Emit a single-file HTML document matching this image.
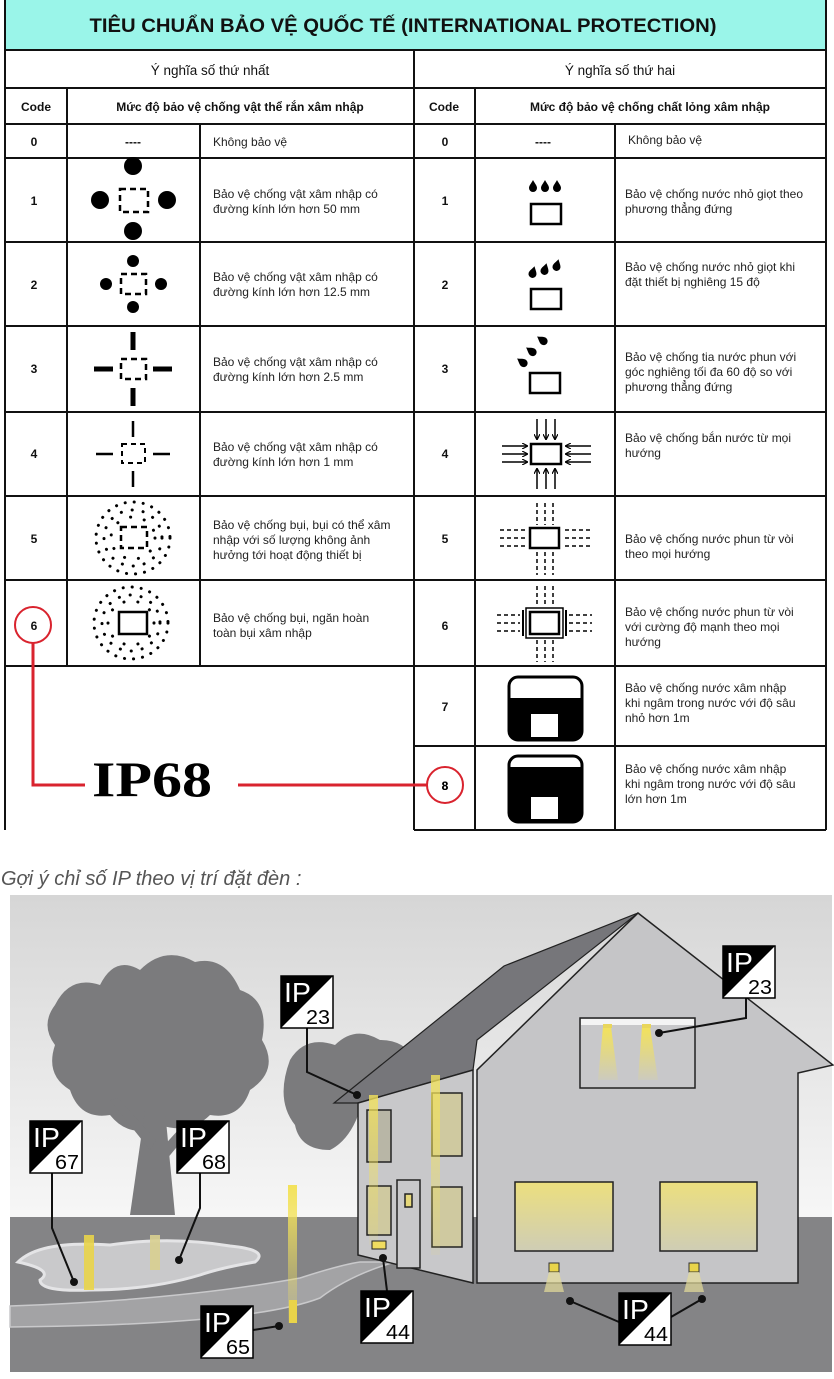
<!DOCTYPE html>
<html><head><meta charset="utf-8"><style>
html,body{margin:0;padding:0;background:#fff;width:834px;height:1379px;overflow:hidden}
svg{display:block}
text{font-family:"Liberation Sans",Arial,sans-serif}
</style></head><body>
<svg width="834" height="1379" viewBox="0 0 834 1379" xmlns="http://www.w3.org/2000/svg">
<defs>
<marker id="ar" markerWidth="6" markerHeight="6" refX="5" refY="3" orient="auto" markerUnits="userSpaceOnUse"><path d="M0,0 L6,3 L0,6" fill="none" stroke="#000" stroke-width="1.2"/></marker>
<path id="drop" d="M0,-6 C1.5,-3 4,-0.5 4,2 A4,4 0 1 1 -4,2 C-4,-0.5 -1.5,-3 0,-6Z" fill="#000"/>
<linearGradient id="sky" x1="0" y1="0" x2="0" y2="1"><stop offset="0" stop-color="#d6d6d6"/><stop offset="0.75" stop-color="#fafafa"/><stop offset="1" stop-color="#fff"/></linearGradient>
<linearGradient id="win" x1="0" y1="0" x2="0" y2="1"><stop offset="0" stop-color="#ecdf7e"/><stop offset="1" stop-color="#cfcdb5"/></linearGradient>
<linearGradient id="beam" x1="0" y1="0" x2="0" y2="1"><stop offset="0" stop-color="#f3e25a"/><stop offset="1" stop-color="#f3e25a" stop-opacity="0.1"/></linearGradient>
<g id="badge">
<rect x="0" y="0" width="52" height="52" fill="#fff" stroke="#000" stroke-width="1.5"/>
<polygon points="0,0 52,0 0,52" fill="#000"/>
<text x="3" y="26" font-size="28" fill="#fff" textLength="27" lengthAdjust="spacingAndGlyphs">IP</text>
</g>
</defs>

<!-- ===== TABLE ===== -->
<rect x="5" y="0" width="821" height="50" fill="#9af5e9"/>
<text x="403" y="32" font-size="19" font-weight="bold" text-anchor="middle" fill="#111" textLength="627" lengthAdjust="spacingAndGlyphs">TIÊU CHUẨN BẢO VỆ QUỐC TẾ (INTERNATIONAL PROTECTION)</text>
<g stroke="#111" stroke-width="2" fill="none">
<line x1="5" y1="0" x2="5" y2="830"/>
<line x1="826" y1="0" x2="826" y2="830"/>
<line x1="414" y1="50" x2="414" y2="830"/>
<line x1="67" y1="88" x2="67" y2="666"/>
<line x1="200" y1="124" x2="200" y2="666"/>
<line x1="475" y1="88" x2="475" y2="830"/>
<line x1="615" y1="124" x2="615" y2="830"/>
<line x1="5" y1="50" x2="826" y2="50"/>
<line x1="5" y1="88" x2="826" y2="88"/>
<line x1="5" y1="124" x2="826" y2="124"/>
<line x1="5" y1="158" x2="826" y2="158"/>
<line x1="5" y1="242" x2="826" y2="242"/>
<line x1="5" y1="326" x2="826" y2="326"/>
<line x1="5" y1="412" x2="826" y2="412"/>
<line x1="5" y1="496" x2="826" y2="496"/>
<line x1="5" y1="580" x2="826" y2="580"/>
<line x1="5" y1="666" x2="826" y2="666"/>
<line x1="414" y1="746" x2="826" y2="746"/>
<line x1="414" y1="830" x2="826" y2="830"/>
</g>
<g font-size="13.5" fill="#111" text-anchor="middle">
<text x="210" y="75">Ý nghĩa số thứ nhất</text>
<text x="620" y="75">Ý nghĩa số thứ hai</text>
<g font-weight="bold" font-size="12">
<text x="36" y="111">Code</text><text x="240" y="111">Mức độ bảo vệ chống vật thể rắn xâm nhập</text>
<text x="444" y="111">Code</text><text x="650" y="111">Mức độ bảo vệ chống chất lỏng xâm nhập</text>
<text x="34" y="146">0</text><text x="34" y="205">1</text><text x="34" y="289">2</text><text x="34" y="373">3</text><text x="34" y="458">4</text><text x="34" y="543">5</text><text x="34" y="630">6</text>
<text x="445" y="146">0</text><text x="445" y="205">1</text><text x="445" y="289">2</text><text x="445" y="373">3</text><text x="445" y="458">4</text><text x="445" y="543">5</text><text x="445" y="630">6</text><text x="445" y="711">7</text><text x="445" y="790">8</text>
<text x="133" y="146">----</text><text x="543" y="146">----</text>
</g>
</g>
<g font-size="12" fill="#222">
<text x="213" y="146">Không bảo vệ</text>
<text x="628" y="144">Không bảo vệ</text>
<text x="213" y="198">Bảo vệ chống vật xâm nhập có</text><text x="213" y="213">đường kính lớn hơn 50 mm</text>
<text x="213" y="281">Bảo vệ chống vật xâm nhập có</text><text x="213" y="296">đường kính lớn hơn 12.5 mm</text>
<text x="213" y="366">Bảo vệ chống vật xâm nhập có</text><text x="213" y="381">đường kính lớn hơn 2.5 mm</text>
<text x="213" y="451">Bảo vệ chống vật xâm nhập có</text><text x="213" y="466">đường kính lớn hơn 1 mm</text>
<text x="213" y="529">Bảo vệ chống bụi, bụi có thể xâm</text><text x="213" y="544">nhập với số lượng không ảnh</text><text x="213" y="559">hưởng tới hoạt động thiết bị</text>
<text x="213" y="622">Bảo vệ chống bụi, ngăn hoàn</text><text x="213" y="637">toàn bụi xâm nhập</text>
<text x="625" y="198">Bảo vệ chống nước nhỏ giọt theo</text><text x="625" y="213">phương thẳng đứng</text>
<text x="625" y="271">Bảo vệ chống nước nhỏ giọt khi</text><text x="625" y="286">đặt thiết bị nghiêng 15 độ</text>
<text x="625" y="361">Bảo vệ chống tia nước phun với</text><text x="625" y="376">góc nghiêng tối đa 60 độ so với</text><text x="625" y="391">phương thẳng đứng</text>
<text x="625" y="442">Bảo vệ chống bắn nước từ mọi</text><text x="625" y="457">hướng</text>
<text x="625" y="543">Bảo vệ chống nước phun từ vòi</text><text x="625" y="558">theo mọi hướng</text>
<text x="625" y="616">Bảo vệ chống nước phun từ vòi</text><text x="625" y="631">với cường độ mạnh theo mọi</text><text x="625" y="646">hướng</text>
<text x="625" y="692">Bảo vệ chống nước xâm nhập</text><text x="625" y="707">khi ngâm trong nước với độ sâu</text><text x="625" y="722">nhỏ hơn 1m</text>
<text x="625" y="773">Bảo vệ chống nước xâm nhập</text><text x="625" y="788">khi ngâm trong nước với độ sâu</text><text x="625" y="803">lớn hơn 1m</text>
</g>

<!-- left icons -->
<g stroke="#000" fill="none">
<rect x="120" y="189" width="28" height="23" stroke-width="2.5" stroke-dasharray="6 4"/>
<rect x="121" y="274" width="25" height="20" stroke-width="2.5" stroke-dasharray="6 4"/>
<rect x="121" y="359" width="25" height="20" stroke-width="2.5" stroke-dasharray="6 4"/>
<rect x="122" y="444" width="23" height="19" stroke-width="2" stroke-dasharray="5 4"/>
<rect x="121" y="527" width="26" height="21" stroke-width="2.5" stroke-dasharray="6 4"/>
<rect x="119" y="612" width="28" height="22" stroke-width="2.5"/>
<line x1="94" y1="369" x2="113" y2="369" stroke-width="5"/><line x1="153" y1="369" x2="172" y2="369" stroke-width="5"/>
<line x1="133" y1="332" x2="133" y2="350" stroke-width="5"/><line x1="133" y1="388" x2="133" y2="406" stroke-width="5"/>
<line x1="96" y1="454" x2="113" y2="454" stroke-width="2.5"/><line x1="153" y1="454" x2="170" y2="454" stroke-width="2.5"/>
<line x1="133" y1="421" x2="133" y2="437" stroke-width="2.5"/><line x1="133" y1="471" x2="133" y2="487" stroke-width="2.5"/>
<g stroke-width="3" stroke-linecap="round">
<ellipse cx="133" cy="538" rx="37" ry="36" stroke-dasharray="0.1 9"/><ellipse cx="133" cy="538" rx="29" ry="28" stroke-dasharray="0.1 11"/><ellipse cx="133" cy="538" rx="22" ry="21" stroke-dasharray="0.1 14"/>
<ellipse cx="131" cy="623" rx="37" ry="36" stroke-dasharray="0.1 9"/><ellipse cx="131" cy="623" rx="29" ry="28" stroke-dasharray="0.1 11"/><ellipse cx="131" cy="623" rx="23" ry="22" stroke-dasharray="0.1 14"/>
</g>
</g>
<g fill="#000">
<circle cx="100" cy="200" r="9"/><circle cx="167" cy="200" r="9"/><circle cx="133" cy="166" r="9"/><circle cx="133" cy="231" r="9"/>
<circle cx="106" cy="284" r="6"/><circle cx="161" cy="284" r="6"/><circle cx="133" cy="261" r="6"/><circle cx="133" cy="307" r="6"/>
</g>

<!-- right icons -->
<g stroke="#000" fill="none" stroke-width="2.5">
<rect x="531" y="204" width="30" height="20"/>
<rect x="531" y="289" width="30" height="20"/>
<rect x="530" y="373" width="30" height="20"/>
<rect x="531" y="444" width="30" height="20"/>
<rect x="530" y="528" width="29" height="20"/>
<rect x="530" y="612" width="29" height="22"/>
<rect x="526" y="608" width="37" height="30" stroke-width="1.5"/>
</g>
<use href="#drop" x="533" y="186"/><use href="#drop" x="545" y="186"/><use href="#drop" x="557" y="186"/>
<use href="#drop" transform="translate(533,272) rotate(15)"/><use href="#drop" transform="translate(545,269) rotate(15)"/><use href="#drop" transform="translate(557,265) rotate(15)"/>
<use href="#drop" transform="translate(522,362) rotate(-55)"/><use href="#drop" transform="translate(531,351) rotate(-55)"/><use href="#drop" transform="translate(542,340) rotate(-55)"/>
<g stroke="#000" stroke-width="1.5" marker-end="url(#ar)">
<line x1="537" y1="419" x2="537" y2="439"/><line x1="546" y1="419" x2="546" y2="439"/><line x1="555" y1="419" x2="555" y2="439"/>
<line x1="537" y1="489" x2="537" y2="469"/><line x1="546" y1="489" x2="546" y2="469"/><line x1="555" y1="489" x2="555" y2="469"/>
<line x1="502" y1="446" x2="527" y2="446"/><line x1="502" y1="454" x2="527" y2="454"/><line x1="502" y1="462" x2="527" y2="462"/>
<line x1="591" y1="446" x2="566" y2="446"/><line x1="591" y1="454" x2="566" y2="454"/><line x1="591" y1="462" x2="566" y2="462"/>
</g>
<g stroke="#000" stroke-width="1.5" stroke-dasharray="4 3">
<line x1="537" y1="503" x2="537" y2="525"/><line x1="545" y1="503" x2="545" y2="525"/><line x1="553" y1="503" x2="553" y2="525"/>
<line x1="537" y1="552" x2="537" y2="575"/><line x1="545" y1="552" x2="545" y2="575"/><line x1="553" y1="552" x2="553" y2="575"/>
<line x1="500" y1="530" x2="525" y2="530"/><line x1="500" y1="538" x2="525" y2="538"/><line x1="500" y1="546" x2="525" y2="546"/>
<line x1="565" y1="530" x2="590" y2="530"/><line x1="565" y1="538" x2="590" y2="538"/><line x1="565" y1="546" x2="590" y2="546"/>
<line x1="537" y1="586" x2="537" y2="606"/><line x1="545" y1="586" x2="545" y2="606"/><line x1="553" y1="586" x2="553" y2="606"/>
<line x1="537" y1="640" x2="537" y2="662"/><line x1="545" y1="640" x2="545" y2="662"/><line x1="553" y1="640" x2="553" y2="662"/>
<line x1="497" y1="615" x2="520" y2="615"/><line x1="497" y1="623" x2="520" y2="623"/><line x1="497" y1="631" x2="520" y2="631"/>
<line x1="569" y1="615" x2="592" y2="615"/><line x1="569" y1="623" x2="592" y2="623"/><line x1="569" y1="631" x2="592" y2="631"/>
</g>
<line x1="523" y1="610" x2="523" y2="636" stroke="#000" stroke-width="2"/><line x1="566" y1="610" x2="566" y2="636" stroke="#000" stroke-width="2"/>
<rect x="509" y="677" width="73" height="63" rx="9" fill="#fff" stroke="#000" stroke-width="3"/>
<path d="M509,698 L582,698 L582,731 Q582,740 573,740 L518,740 Q509,740 509,731Z" fill="#000"/>
<rect x="531" y="714" width="27" height="23" fill="#fff"/>
<rect x="509" y="756" width="73" height="66" rx="9" fill="#fff" stroke="#000" stroke-width="3"/>
<path d="M509,767 L582,767 L582,813 Q582,822 573,822 L518,822 Q509,822 509,813Z" fill="#000"/>
<rect x="531" y="797" width="27" height="22" fill="#fff"/>

<!-- red annotations -->
<g stroke="#d9232e" stroke-width="3" fill="none">
<circle cx="33" cy="625" r="18" stroke-width="2"/>
<polyline points="33,643 33,785 85,785"/>
<line x1="238" y1="785" x2="428" y2="785"/>
<circle cx="445" cy="785" r="18" stroke-width="2"/>
</g>
<text x="445" y="790" font-size="12" font-weight="bold" text-anchor="middle">8</text>
<text x="92" y="796" style="font-family:'Liberation Serif','DejaVu Serif',serif;font-weight:bold;font-size:50px" fill="#000" textLength="120" lengthAdjust="spacingAndGlyphs">IP68</text>

<!-- caption -->
<text x="1" y="885" font-size="20" font-style="italic" fill="#555">Gợi ý chỉ số IP theo vị trí đặt đèn :</text>

<!-- ===== ILLUSTRATION ===== -->
<rect x="10" y="895" width="822" height="477" fill="url(#sky)"/>
<!-- trees -->
<g fill="#7b7b7d">
<path d="M55,1005 Q70,975 100,985 Q115,955 140,970 Q165,945 195,962 Q225,955 240,990 Q270,1000 262,1040 Q280,1070 250,1090 Q240,1120 210,1115 Q190,1135 160,1125 Q130,1140 110,1115 Q80,1120 70,1090 Q45,1075 55,1045 Q40,1025 55,1005Z"/>
<path d="M145,1110 L130,1215 L175,1215 L165,1110Z"/>
<path d="M150,1150 L110,1100 L118,1098 L156,1140Z"/>
<path d="M160,1150 L210,1095 L216,1100 L166,1160Z"/>
<path d="M290,1060 Q305,1035 335,1045 Q355,1025 380,1040 Q405,1040 415,1060 L410,1110 L360,1110 Q350,1140 330,1150 Q300,1150 295,1125 Q275,1100 290,1060Z"/>
</g>
<!-- ground -->
<rect x="10" y="1217" width="822" height="155" fill="#848486"/>
<path d="M18,1262 Q40,1240 110,1245 Q170,1236 230,1246 Q270,1250 255,1262 Q220,1268 200,1275 Q150,1290 90,1290 Q40,1292 40,1280 Q55,1270 18,1262Z" fill="#c9c9cb" stroke="#e4e4e6" stroke-width="3"/>
<path d="M10,1306 Q180,1300 300,1278 Q340,1265 360,1262 L395,1262 Q350,1275 320,1298 Q250,1325 10,1327Z" fill="#a3a3a5" stroke="#c9c9cb" stroke-width="1.5"/>
<!-- house -->
<polygon points="638,913 833,1065 798,1073 798,1283 477,1283 477,1070" fill="#c5c5c7" stroke="#222" stroke-width="1.5"/>
<polygon points="638,913 504,966 334,1103 358,1103 473,1070 477,1040" fill="#76767a" stroke="#222" stroke-width="1.2"/>
<polygon points="358,1103 473,1070 473,1283 358,1255" fill="#c8c8ca" stroke="#222" stroke-width="1.5"/>
<!-- upper window -->
<rect x="580" y="1018" width="115" height="70" fill="#c8c8ca" stroke="#222" stroke-width="1.5"/>
<rect x="581" y="1019" width="113" height="6" fill="#f4f4f4"/>
<polygon points="603,1027 611,1027 618,1080 598,1080" fill="url(#beam)"/>
<polygon points="642,1027 650,1027 658,1080 638,1080" fill="url(#beam)"/>
<rect x="603" y="1024" width="9" height="4" fill="#e9d65c"/><rect x="642" y="1024" width="9" height="4" fill="#e9d65c"/>
<!-- big windows -->
<rect x="515" y="1182" width="98" height="69" fill="url(#win)" stroke="#222" stroke-width="1.5"/>
<rect x="660" y="1182" width="97" height="69" fill="url(#win)" stroke="#222" stroke-width="1.5"/>
<!-- front windows -->
<g stroke="#222" stroke-width="1.5" fill="#b8b6a6">
<rect x="367" y="1110" width="24" height="52"/>
<rect x="432" y="1093" width="30" height="63" fill="#cfc9a0"/>
<rect x="367" y="1186" width="24" height="49" fill="#cfc9a0"/>
<rect x="432" y="1187" width="30" height="60" fill="#cfc9a0"/>
<rect x="397" y="1180" width="23" height="88" fill="#c8c8ca"/>
<rect x="405" y="1194" width="7" height="13" fill="#e6d87a"/>
</g>
<rect x="369" y="1095" width="9" height="150" fill="url(#beam)" opacity="0.8"/>
<rect x="431" y="1075" width="9" height="180" fill="url(#beam)" opacity="0.8"/>
<rect x="372" y="1241" width="14" height="8" fill="#f0dc60" stroke="#222" stroke-width="1"/>
<!-- ground lights -->
<rect x="84" y="1235" width="10" height="55" fill="#e9d44a" opacity="0.9"/>
<rect x="150" y="1235" width="10" height="35" fill="#d8cf90" opacity="0.9"/>
<rect x="288" y="1185" width="9" height="138" fill="url(#beam)"/>
<rect x="289" y="1300" width="8" height="23" fill="#e9d44a"/>
<rect x="549" y="1263" width="10" height="9" fill="#e9d44a" stroke="#333" stroke-width="1"/>
<rect x="689" y="1263" width="10" height="9" fill="#e9d44a" stroke="#333" stroke-width="1"/>
<polygon points="549,1272 559,1272 564,1292 544,1292" fill="#e6dd9a" opacity="0.7"/>
<polygon points="689,1272 699,1272 704,1292 684,1292" fill="#e6dd9a" opacity="0.7"/>
<!-- leader lines -->
<g stroke="#111" stroke-width="2" fill="none">
<polyline points="307,1027 307,1072 357,1095"/>
<polyline points="746,997 746,1018 659,1033"/>
<polyline points="52,1172 52,1228 74,1282"/>
<polyline points="200,1172 200,1208 179,1260"/>
<polyline points="253,1330 279,1326"/>
<polyline points="387,1291 383,1258"/>
<polyline points="619,1322 570,1301"/>
<polyline points="671,1317 702,1299"/>
</g>
<g fill="#111">
<circle cx="357" cy="1095" r="4"/><circle cx="659" cy="1033" r="4"/><circle cx="74" cy="1282" r="4"/><circle cx="179" cy="1260" r="4"/>
<circle cx="279" cy="1326" r="4"/><circle cx="383" cy="1258" r="4"/><circle cx="570" cy="1301" r="4"/><circle cx="702" cy="1299" r="4"/>
</g>
<!-- badges -->
<g font-size="20">
<use href="#badge" x="281" y="976"/><text x="330" y="1024" text-anchor="end" textLength="24" lengthAdjust="spacingAndGlyphs">23</text>
<use href="#badge" x="723" y="946"/><text x="772" y="994" text-anchor="end" textLength="24" lengthAdjust="spacingAndGlyphs">23</text>
<use href="#badge" x="30" y="1121"/><text x="79" y="1169" text-anchor="end" textLength="24" lengthAdjust="spacingAndGlyphs">67</text>
<use href="#badge" x="177" y="1121"/><text x="226" y="1169" text-anchor="end" textLength="24" lengthAdjust="spacingAndGlyphs">68</text>
<use href="#badge" x="201" y="1306"/><text x="250" y="1354" text-anchor="end" textLength="24" lengthAdjust="spacingAndGlyphs">65</text>
<use href="#badge" x="361" y="1291"/><text x="410" y="1339" text-anchor="end" textLength="24" lengthAdjust="spacingAndGlyphs">44</text>
<use href="#badge" x="619" y="1293"/><text x="668" y="1341" text-anchor="end" textLength="24" lengthAdjust="spacingAndGlyphs">44</text>
</g>
</svg>
</body></html>
